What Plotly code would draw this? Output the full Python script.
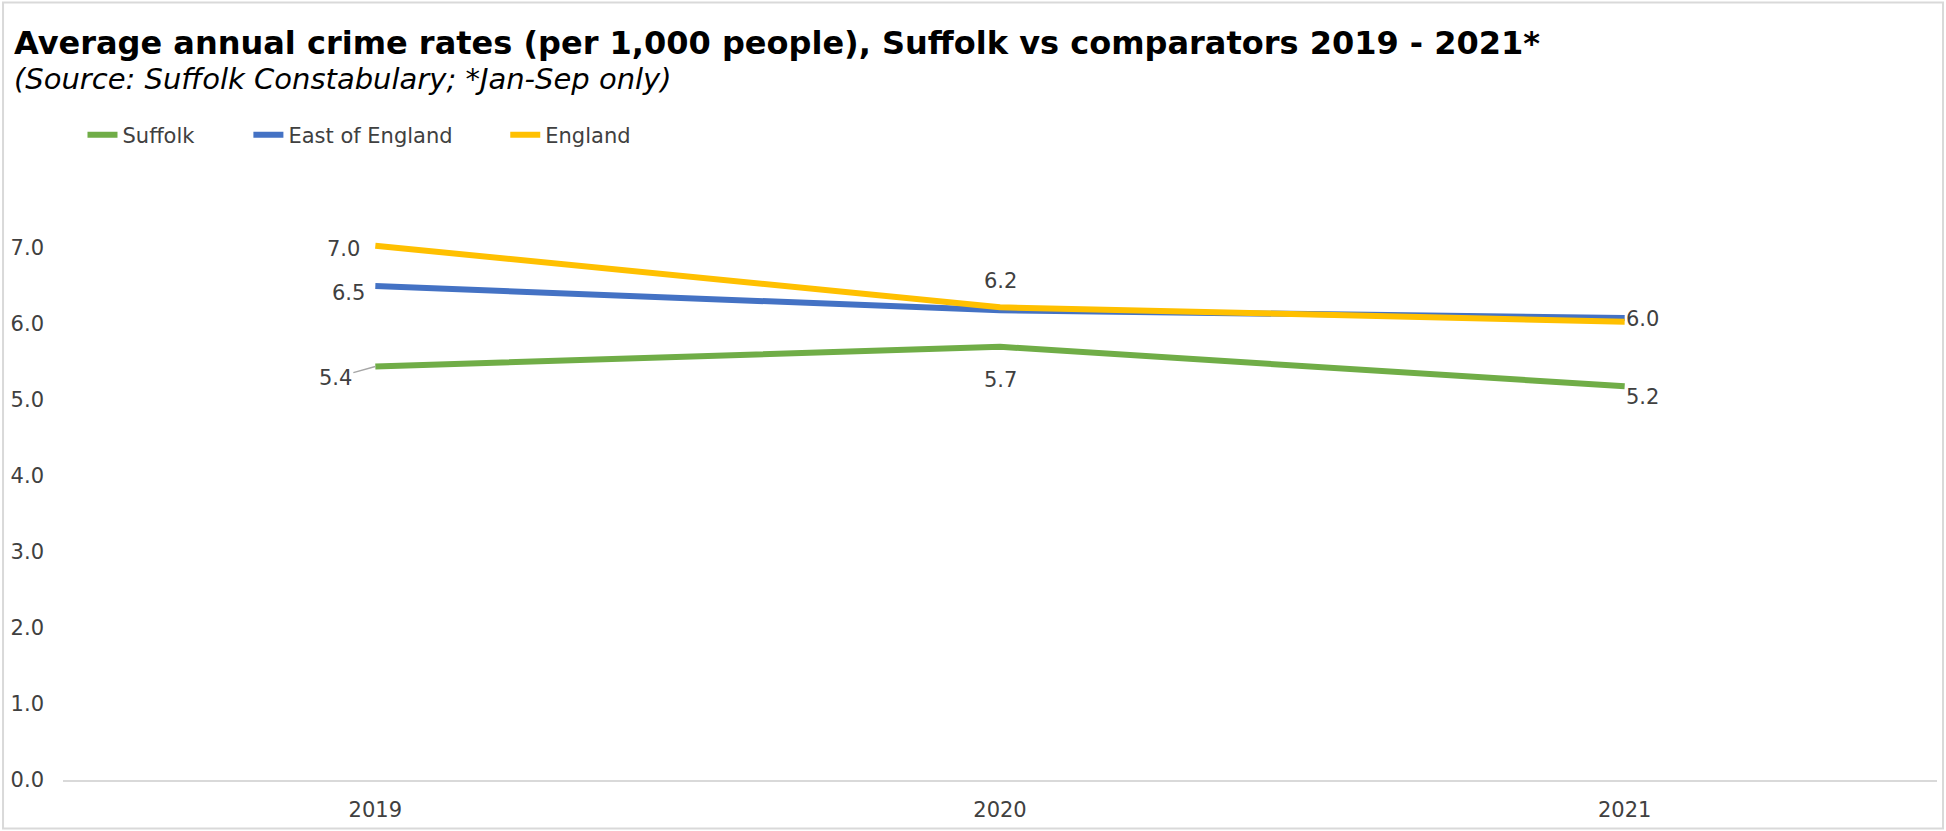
import plotly.graph_objects as go

# ---- data ----
years = ["2019", "2020", "2021"]
suffolk = [5.44, 5.70, 5.18]
east_of_england = [6.50, 6.18, 6.08]
england = [7.03, 6.22, 6.03]
y_ticks = [0, 1, 2, 3, 4, 5, 6, 7]
y_tick_labels = ["0.0", "1.0", "2.0", "3.0", "4.0", "5.0", "6.0", "7.0"]

title_text = "Average annual crime rates (per 1,000 people), Suffolk vs comparators 2019 - 2021*"
subtitle_text = "(Source: Suffolk Constabulary; *Jan-Sep only)"

# ---- layout constants ----
W, H = 1946, 831
ML, MR, MT, MB = 62.5, 8.5, 172, 51
YMAX = 8
PW = W - ML - MR
PH = H - MT - MB
FONT = "Verdana, DejaVu Sans, sans-serif"
LABEL_COLOR = "#404040"

def px_x(px):
    return (px - ML) / PW

def px_y(py):
    return (H - MB - py) / PH

colors = {"Suffolk": "#70AD47", "East of England": "#4472C4", "England": "#FFC000"}
series = [("Suffolk", suffolk), ("East of England", east_of_england), ("England", england)]
legend_ids = ["legend", "legend2", "legend3"]
legend_x_px = [82, 248, 505]

fig = go.Figure()
for (name, vals), lid in zip(series, legend_ids):
    fig.add_trace(go.Scatter(
        x=years, y=vals, name=name, mode="lines",
        line=dict(color=colors[name], width=6),
        hoverinfo="skip", legend=lid,
    ))

# data label placement (style only): (series values, index, xanchor, xshift, yshift)
label_specs = [
    (england, 0, "right", -13, -3),
    (east_of_england, 0, "right", -8, -7),
    (england, 1, "center", 0, 26),
    (suffolk, 1, "center", 0, -33),
    (england, 2, "left", -1, 3),
    (suffolk, 2, "left", -1, -11),
]
for vals, i, xa, xs, ys in label_specs:
    fig.add_annotation(
        x=i, y=vals[i], text=f"{vals[i]:.1f}", showarrow=False,
        xanchor=xa, yanchor="middle", xshift=xs, yshift=ys,
        font=dict(family=FONT, size=21, color=LABEL_COLOR),
    )
# Suffolk 2019 label with leader line
fig.add_annotation(
    x=0, y=suffolk[0], text=f"{suffolk[0]:.1f}", showarrow=True,
    arrowhead=0, arrowwidth=1.5, arrowcolor="#A6A6A6", ax=-40, ay=11,
    standoff=0, font=dict(family=FONT, size=21, color=LABEL_COLOR),
)

# title and subtitle
fig.add_annotation(
    xref="paper", yref="paper", x=px_x(11), y=px_y(43), text=f"<b>{title_text}</b>",
    showarrow=False, xanchor="left", yanchor="middle",
    font=dict(family=FONT, size=32, color="#000000"),
)
fig.add_annotation(
    xref="paper", yref="paper", x=px_x(11), y=px_y(79), text=f"<i>{subtitle_text}</i>",
    showarrow=False, xanchor="left", yanchor="middle",
    font=dict(family=FONT, size=29, color="#000000"),
)

# outer frame
fig.add_shape(
    type="rect", xref="paper", yref="paper",
    x0=px_x(2.5), x1=px_x(1943.5), y0=px_y(828.5), y1=px_y(2.5),
    line=dict(color="#D9D9D9", width=2), fillcolor="rgba(0,0,0,0)", layer="below",
)

legend_common = dict(
    orientation="h", yanchor="middle",
    font=dict(family=FONT, size=21, color=LABEL_COLOR),
    bgcolor="rgba(0,0,0,0)", itemwidth=30,
)
legends = {}
for lid, lx in zip(legend_ids, legend_x_px):
    legends[lid] = dict(legend_common, x=px_x(lx), y=px_y(135), xanchor="left")

fig.update_layout(
    width=W, height=H,
    margin=dict(l=ML, r=MR, t=MT, b=MB, pad=0),
    paper_bgcolor="white", plot_bgcolor="white",
    font=dict(family=FONT, size=21, color=LABEL_COLOR),
    showlegend=True,
    xaxis=dict(
        type="category", range=[-0.5, 2.5], showgrid=False, zeroline=False,
        showline=True, linecolor="#D9D9D9", linewidth=2, ticks="",
        tickfont=dict(family=FONT, size=21, color=LABEL_COLOR),
        ticklabelstandoff=10, fixedrange=True,
    ),
    yaxis=dict(
        range=[0, YMAX], tickvals=y_ticks, ticktext=y_tick_labels,
        showgrid=False, zeroline=False, showline=False, ticks="",
        tickfont=dict(family=FONT, size=21, color=LABEL_COLOR),
        ticklabelstandoff=18, fixedrange=True,
    ),
    **legends,
)

fig.write_html("out.html")
